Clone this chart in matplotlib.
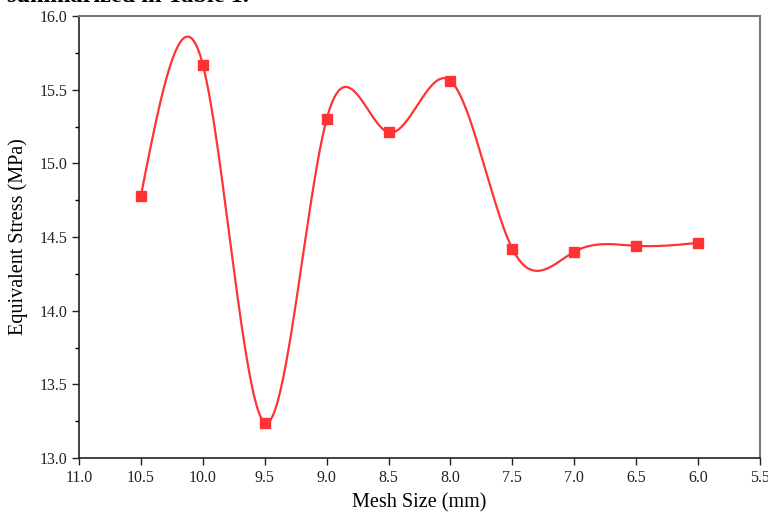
import numpy as np
import matplotlib
matplotlib.use("Agg")
import matplotlib.pyplot as plt
from matplotlib.ticker import MultipleLocator, FormatStrFormatter

mesh_size = [10.5, 10.0, 9.5, 9.0, 8.5, 8.0, 7.5, 7.0, 6.5, 6.0]
stress = [14.78, 15.67, 13.24, 15.30, 15.21, 15.56, 14.42, 14.40, 14.44, 14.46]


def natural_spline(x, y, n=400):
    # plain natural cubic spline, x sorted ascending
    x = np.asarray(x, float)
    y = np.asarray(y, float)
    h = np.diff(x)
    m = len(x)
    A = np.zeros((m, m))
    b = np.zeros(m)
    A[0, 0] = 1
    A[-1, -1] = 1
    for i in range(1, m - 1):
        A[i, i - 1] = h[i - 1]
        A[i, i] = 2 * (h[i - 1] + h[i])
        A[i, i + 1] = h[i]
        b[i] = 3 * ((y[i + 1] - y[i]) / h[i] - (y[i] - y[i - 1]) / h[i - 1])
    c = np.linalg.solve(A, b)
    xs = np.linspace(x[0], x[-1], n)
    idx = np.clip(np.searchsorted(x, xs) - 1, 0, m - 2)
    dx = xs - x[idx]
    bb = (y[idx + 1] - y[idx]) / h[idx] - h[idx] * (2 * c[idx] + c[idx + 1]) / 3
    dd = (c[idx + 1] - c[idx]) / (3 * h[idx])
    ys = y[idx] + bb * dx + c[idx] * dx**2 + dd * dx**3
    return xs, ys


plt.rcParams['font.family'] = ['Liberation Serif', 'DejaVu Serif']

fig = plt.figure(figsize=(7.68, 5.14), dpi=100)
ax = fig.add_axes([79 / 768, 1 - 458 / 514, 681 / 768, 442 / 514])

red = '#ff3333'
xs, ys = natural_spline(mesh_size[::-1], stress[::-1])
ax.plot(xs, ys, color=red, lw=1.6)
ax.plot(mesh_size, stress, 's', color=red, ms=6.5, mec=red)

ax.set_xlim(11.0, 5.5)
ax.set_ylim(13.0, 16.0)
ax.xaxis.set_major_locator(MultipleLocator(0.5))
ax.yaxis.set_major_locator(MultipleLocator(0.5))
ax.yaxis.set_minor_locator(MultipleLocator(0.25))
ax.xaxis.set_major_formatter(FormatStrFormatter('%.1f'))
ax.yaxis.set_major_formatter(FormatStrFormatter('%.1f'))
ax.tick_params(direction='out', labelsize=11.5, length=5, width=1, colors='#222222')
ax.tick_params(which='minor', direction='out', length=3, width=1)

for s in ['left', 'bottom']:
    ax.spines[s].set_color('#222222')
    ax.spines[s].set_linewidth(1.2)
for s in ['top', 'right']:
    ax.spines[s].set_color('#777777')
    ax.spines[s].set_linewidth(1.5)

ax.set_xlabel("Mesh Size (mm)", fontsize=14.5, labelpad=5)
ax.set_ylabel("Equivalent Stress (MPa)", fontsize=14.5, labelpad=8)

# leftover caption text clipped at the top of the crop
fig.text(7 / 768, 1 - 2 / 514, "summarized in Table 1.", fontsize=17.5, fontweight='bold',
         va='baseline')

fig.savefig("out.png", dpi=100)
